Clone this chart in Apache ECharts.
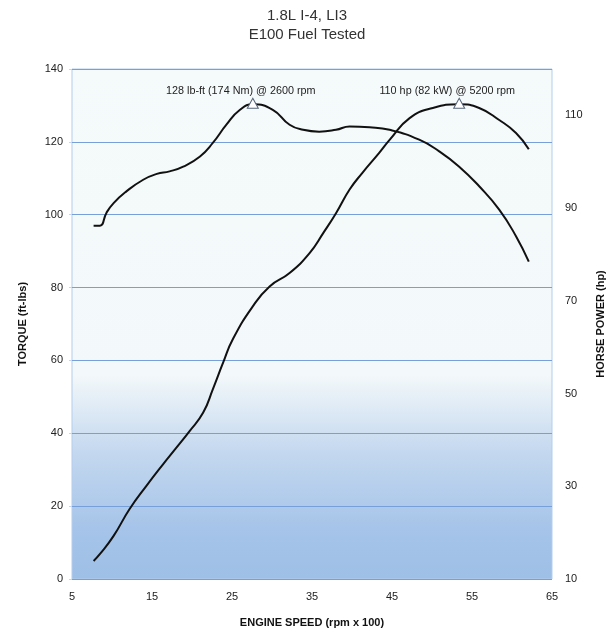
<!DOCTYPE html>
<html>
<head>
<meta charset="utf-8">
<script src="https://cdn.jsdelivr.net/npm/echarts@6/dist/echarts.min.js"></script>
<style>
html,body{margin:0;padding:0;background:#fff;}
#chart{width:614px;height:633px;}
</style>
</head>
<body>
<div id="chart"></div>
<script>
// Engine speed (rpm x 100) and torque (ft-lbs)
var torqueRpm = [7.7, 8.5, 9.3, 10.2, 11.8, 13.9, 15.6, 17.2, 18.9, 21.0, 22.6, 24.3, 26.0, 27.6, 30.1, 32.2, 33.9, 35.9, 38.0, 39.7, 42.2, 44.7, 48.4, 50.9, 53.4, 55.9, 58.4, 60.5, 62.1];
var torqueVals = [97.0, 97.0, 100.5, 103.2, 106.4, 109.6, 111.2, 111.9, 113.2, 116.0, 119.7, 124.7, 128.8, 130.3, 128.8, 124.7, 123.3, 122.8, 123.3, 124.2, 124.0, 123.3, 120.6, 117.4, 113.2, 107.8, 101.4, 94.1, 87.1];
// Engine speed (rpm x 100) and horse power (hp)
var hpRpm = [7.7, 8.5, 10.2, 12.2, 14.3, 16.4, 17.9, 19.7, 21.4, 22.6, 23.9, 25.1, 27.6, 29.7, 32.2, 34.7, 36.4, 38.0, 39.7, 41.3, 43.4, 44.7, 47.2, 50.1, 53.4, 55.9, 58.4, 60.5, 62.1];
var hpVals = [13.9, 15.4, 19.3, 25.1, 30.1, 34.8, 38.0, 41.9, 45.9, 50.9, 56.7, 61.7, 68.8, 73.1, 76.0, 80.3, 84.6, 88.9, 94.0, 97.6, 101.9, 104.7, 109.4, 111.6, 112.4, 111.6, 109.0, 106.2, 102.7];
// Peak annotations
var torquePeak = [27.6, 130.3];
var hpPeak = [53.4, 112.4];
var torquePeakLabel = '128 lb-ft (174 Nm) @ 2600 rpm';
var hpPeakLabel = '110 hp (82 kW) @ 5200 rpm';
var titleLines = ['1.8L I-4, LI3', 'E100 Fuel Tested'];

function pairs(xs, ys) { return xs.map(function (x, i) { return [x, ys[i]]; }); }

var font = 'Liberation Sans, Arial, sans-serif';
var chart = echarts.init(document.getElementById('chart'), null, {renderer: 'canvas'});
var peakStyle = { color: '#ffffff', borderColor: '#56657a', borderWidth: 1 };
var peakLabel = { show: true, position: 'top', distance: 4, offset: [-12, 3], color: '#222', fontSize: 10.8, fontFamily: font };

chart.setOption({
  animation: false,
  backgroundColor: '#ffffff',
  title: {
    text: titleLines.join('\n'),
    left: 'center',
    top: 1,
    textStyle: { fontSize: 15, fontWeight: 'normal', color: '#333', lineHeight: 19, fontFamily: font }
  },
  grid: {
    left: 72, right: 61, top: 69, bottom: 53,
    show: true,
    borderColor: '#b3cdee',
    borderWidth: 1,
    backgroundColor: new echarts.graphic.LinearGradient(0, 0, 0, 1, [
      { offset: 0, color: '#f5fafb' },
      { offset: 0.6, color: '#f3f8fa' },
      { offset: 0.75, color: '#c4d8ef' },
      { offset: 0.9, color: '#a6c4e9' },
      { offset: 1, color: '#9ebfe6' }
    ])
  },
  xAxis: {
    type: 'value', min: 5, max: 65, interval: 5,
    name: 'ENGINE SPEED (rpm x 100)', nameLocation: 'middle', nameGap: 38,
    nameTextStyle: { fontSize: 11, fontWeight: 'bold', color: '#111', fontFamily: font },
    axisLine: { show: false }, axisTick: { show: false },
    splitLine: { show: false },
    axisLabel: {
      margin: 12, fontSize: 11, color: '#222', fontFamily: font,
      formatter: function (v) { return ((v - 5) % 10 === 0) ? String(v) : ''; }
    }
  },
  yAxis: [
    {
      type: 'value', min: 0, max: 140, interval: 20, position: 'left',
      name: 'TORQUE (ft-lbs)', nameLocation: 'middle', nameGap: 44, nameRotate: 90,
      nameTextStyle: { fontSize: 11, fontWeight: 'bold', color: '#111', fontFamily: font },
      axisLine: { show: false },
      axisTick: { show: true, length: 3, lineStyle: { color: '#c5d6ee' } },
      axisLabel: { margin: 9, fontSize: 11, color: '#222', fontFamily: font },
      splitLine: { show: true, lineStyle: { color: '#77a0d8', width: 1 } }
    },
    {
      type: 'value', min: 10, max: 120, interval: 10, position: 'right',
      name: 'HORSE POWER (hp)', nameLocation: 'middle', nameGap: 43, nameRotate: 90,
      nameTextStyle: { fontSize: 11, fontWeight: 'bold', color: '#111', fontFamily: font },
      axisLine: { show: false }, axisTick: { show: false },
      splitLine: { show: false },
      axisLabel: {
        margin: 13, fontSize: 11, color: '#222', fontFamily: font,
        formatter: function (v) { return ((v - 10) % 20 === 0) ? String(v) : ''; }
      }
    }
  ],
  series: [
    {
      name: 'Torque', type: 'line', yAxisIndex: 0, smooth: 0.5, showSymbol: false,
      data: pairs(torqueRpm, torqueVals),
      lineStyle: { color: '#111', width: 2 }, itemStyle: { color: '#111' },
      z: 3,
      markPoint: {
        symbol: 'triangle', symbolSize: [11, 10], symbolOffset: [0, -1],
        itemStyle: peakStyle, label: peakLabel,
        data: [{ coord: torquePeak, value: torquePeakLabel, label: { formatter: torquePeakLabel } }]
      }
    },
    {
      name: 'Horse Power', type: 'line', yAxisIndex: 1, smooth: 0.5, showSymbol: false,
      data: pairs(hpRpm, hpVals),
      lineStyle: { color: '#111', width: 2 }, itemStyle: { color: '#111' },
      z: 3,
      markPoint: {
        symbol: 'triangle', symbolSize: [11, 10], symbolOffset: [0, -1],
        itemStyle: peakStyle, label: peakLabel,
        data: [{ coord: hpPeak, value: hpPeakLabel, label: { formatter: hpPeakLabel } }]
      }
    }
  ]
});
</script>
</body>
</html>
